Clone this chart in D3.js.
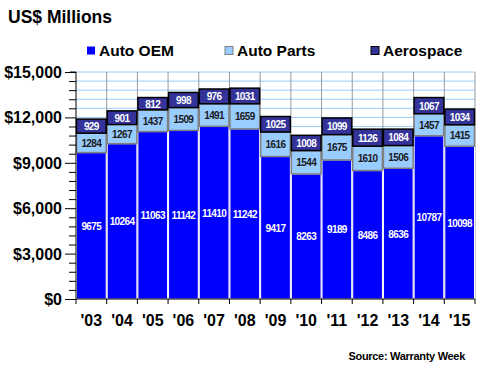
<!DOCTYPE html>
<html>
<head>
<meta charset="utf-8">
<script src="https://cdn.jsdelivr.net/npm/d3@7"></script>
<style>
  body { margin: 0; background: #fff; }
  text { font-family: "Liberation Sans", Arial, sans-serif; font-weight: bold; }
</style>
</head>
<body>
<div id="chart"></div>
<script>
const years = ["'03","'04","'05","'06","'07","'08","'09","'10","'11","'12","'13","'14","'15"];
const autoOEM = [9675,10264,11063,11142,11410,11242,9417,8263,9189,8486,8636,10787,10098];
const autoParts = [1284,1267,1437,1509,1491,1659,1616,1544,1675,1610,1506,1457,1415];
const aerospace = [929,901,812,998,976,1031,1025,1008,1099,1126,1084,1067,1034];
const yTicks = [0,3000,6000,9000,12000,15000];

const seriesNames = ["Auto OEM","Auto Parts","Aerospace"];
const fills = ["#0000ff","#99ccff","#333399"];
const strokes = ["#ffffff","#808080","#000000"];
const labelColors = ["#ffffff","#1a1a1a","#ffffff"];

const width = 480, height = 370;
const plotLeft = 76, plotRight = 475, plotTop = 72, plotBottom = 299;

const svg = d3.select("#chart").append("svg")
    .attr("width", width)
    .attr("height", height);

const x = d3.scaleBand().domain(years).range([plotLeft, plotRight]).padding(0);
const y = d3.scaleLinear().domain([0, 15000]).range([plotBottom, plotTop]);

const rows = years.map((yr, i) => ({year: yr, "Auto OEM": autoOEM[i], "Auto Parts": autoParts[i], "Aerospace": aerospace[i]}));
const stacked = d3.stack().keys(seriesNames)(rows);

// gridlines
const minor = d3.range(0, 15001, 600);
svg.append("g").selectAll("line").data(minor.filter(v => v > 0)).enter().append("line")
    .attr("x1", plotLeft).attr("x2", plotRight)
    .attr("y1", d => y(d)).attr("y2", d => y(d))
    .attr("stroke", "#99ccff").attr("stroke-width", 1);
svg.append("g").selectAll("line").data(years.slice(1).concat(["end"])).enter().append("line")
    .attr("x1", d => d === "end" ? plotRight : x(d)).attr("x2", d => d === "end" ? plotRight : x(d))
    .attr("y1", plotTop).attr("y2", plotBottom)
    .attr("stroke", "#999999").attr("stroke-width", 1);

// bars
stacked.forEach((s, si) => {
  const g = svg.append("g");
  g.selectAll("rect").data(s).enter().append("rect")
      .attr("x", d => x(d.data.year) + 0.5)
      .attr("width", x.bandwidth() - 1)
      .attr("y", d => y(d[1]))
      .attr("height", d => y(d[0]) - y(d[1]))
      .attr("fill", fills[si])
      .attr("stroke", strokes[si])
      .attr("stroke-width", si === 0 ? 1 : 1.5);
  g.selectAll("text").data(s).enter().append("text")
      .attr("x", d => x(d.data.year) + x.bandwidth() / 2)
      .attr("y", d => (y(d[0]) + y(d[1])) / 2 + 4)
      .attr("text-anchor", "middle")
      .attr("font-size", "10px")
      .attr("letter-spacing", "-0.6px")
      .attr("fill", labelColors[si])
      .text(d => d.data[seriesNames[si]]);
});

// y axis
const yAxis = svg.append("g")
    .attr("transform", `translate(${plotLeft},0)`)
    .call(d3.axisLeft(y).tickValues(minor).tickSize(6).tickFormat(""));
yAxis.select(".domain").attr("stroke", "#000").attr("d", `M-6,${plotTop}H0V${plotBottom}`);
yAxis.selectAll("line").attr("stroke", "#000").attr("x1", 0).attr("x2", -7);
yAxis.selectAll(".tick").filter(d => d % 3000 === 0).select("line").attr("x2", -11);
svg.append("g").selectAll("text").data(yTicks).enter().append("text")
    .attr("x", 62).attr("y", d => y(d) + 6)
    .attr("text-anchor", "end")
    .attr("font-size", "16px")
    .attr("fill", "#000")
    .text(d => "$" + d3.format(",")(d));

// x axis
const xAxis = svg.append("g")
    .attr("transform", `translate(0,${plotBottom})`)
    .call(d3.axisBottom(x).tickSize(0).tickFormat(""));
xAxis.select(".domain").attr("stroke", "#000").attr("d", `M${plotLeft},0H${plotRight}`);
svg.append("g").selectAll("line").data(years.concat(["end"])).enter().append("line")
    .attr("x1", d => d === "end" ? plotRight : x(d)).attr("x2", d => d === "end" ? plotRight : x(d))
    .attr("y1", plotBottom).attr("y2", plotBottom + 5)
    .attr("stroke", "#000");
svg.append("g").selectAll("text").data(years).enter().append("text")
    .attr("x", d => x(d) + x.bandwidth() / 2)
    .attr("y", 326)
    .attr("text-anchor", "middle")
    .attr("font-size", "16px")
    .attr("fill", "#000")
    .text(d => d);

// title
svg.append("text").attr("x", 8).attr("y", 23)
    .attr("font-size", "17.5px").attr("fill", "#000").text("US$ Millions");

// legend
const legendX = [87, 225, 371];
seriesNames.forEach((n, i) => {
  svg.append("rect").attr("x", legendX[i]).attr("y", 46.5).attr("width", 8).attr("height", 8)
      .attr("fill", fills[i]).attr("stroke", i === 0 ? "none" : (i === 1 ? "#808080" : "#000"));
  svg.append("text").attr("x", legendX[i] + 12).attr("y", 56)
      .attr("font-size", "15.5px").attr("fill", "#000").text(n);
});

// source
svg.append("text").attr("x", 465).attr("y", 360)
    .attr("text-anchor", "end").attr("font-size", "11px")
    .attr("letter-spacing", "-0.3px")
    .attr("fill", "#000").text("Source: Warranty Week");
</script>
</body>
</html>
